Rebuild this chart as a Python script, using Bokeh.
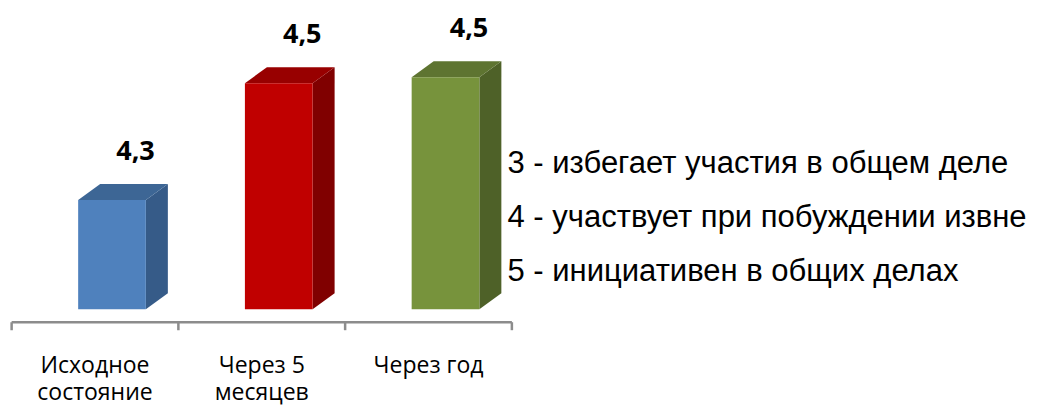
from bokeh.plotting import figure
from bokeh.models import Range1d, Label
from bokeh.core.properties import value
from bokeh.embed import file_html
from bokeh.resources import INLINE

# ---- data ----
CATEGORIES = ["Исходное\nсостояние", "Через 5\nмесяцев", "Через год"]
VALUES = [4.3, 4.5, 4.51]
LEGEND_LINES = [
    "3 - избегает участия в общем деле",
    "4 - участвует при побуждении извне",
    "5 - инициативен в общих делах",
]
FRONT_COLORS = ["#4F81BD", "#C00000", "#77933C"]
SIDE_COLORS = ["#365B88", "#800000", "#4E6128"]
TOP_COLORS = ["#3D6695", "#980000", "#5E7431"]

# ---- layout constants ----
W, H = 1045, 406
PX_X = 166.75          # px per category slot
PX_Y = 584.0           # px per value unit
X0 = 94.5              # canvas px of first slot centre
V_TOP = 4.3 + 199.5 / PX_Y
BASE = 4.113           # floor of the 3D bars
AXIS_Y = BASE - 13 / PX_Y
TICK = 8 / PX_Y
FL, FR = -0.101, 0.305  # front face extent relative to slot centre
DX = 22 / PX_X
DY = 16 / PX_Y

p = figure(width=W, height=H, output_backend="svg", toolbar_location=None,
           x_range=Range1d(-X0 / PX_X, (W - X0) / PX_X),
           y_range=Range1d(V_TOP - H / PX_Y, V_TOP),
           min_border=0, outline_line_color=None)
p.axis.visible = False
p.grid.visible = False
p.background_fill_color = "white"
p.border_fill_color = "white"

idx = list(range(len(VALUES)))
left = [i + FL for i in idx]
right = [i + FR for i in idx]

# side faces
side_xs = [[r, r + DX, r + DX, r] for r in right]
side_ys = [[BASE, BASE + DY, v + DY, v] for v in VALUES]
p.patches(side_xs, side_ys, fill_color=SIDE_COLORS, line_color=None)
# top faces
top_xs = [[l, l + DX, r + DX, r] for l, r in zip(left, right)]
top_ys = [[v, v + DY, v + DY, v] for v in VALUES]
p.patches(top_xs, top_ys, fill_color=TOP_COLORS, line_color=None)
# front faces
p.quad(left=left, right=right, bottom=BASE, top=VALUES,
       fill_color=FRONT_COLORS, line_color=None)

# value labels
labels = [f"{v:.1f}".replace(".", ",") for v in VALUES]
p.text(x=[i + 0.243 for i in idx], y=VALUES, text=labels,
       y_offset=-50, text_align="center", text_baseline="middle",
       text_font=value("Open Sans"), text_font_style="bold",
       text_font_size="27px", text_color="black")

# category axis
n = len(CATEGORIES)
p.segment(x0=[-0.5], y0=[AXIS_Y], x1=[n - 0.5], y1=[AXIS_Y],
          line_color="#8C8C8C", line_width=2.5)
bounds = [i - 0.5 for i in range(n + 1)]
p.segment(x0=bounds, y0=[AXIS_Y] * len(bounds), x1=bounds,
          y1=[AXIS_Y - TICK] * len(bounds), line_color="#8C8C8C", line_width=2.5)
split = [c.split("\n") for c in CATEGORIES]
for row, dy in enumerate([42, 69]):
    xs = [i for i, parts in zip(idx, split) if len(parts) > row]
    txt = [parts[row] for parts in split if len(parts) > row]
    p.text(x=xs, y=[AXIS_Y] * len(xs), text=txt, y_offset=dy,
           text_align="center", text_baseline="alphabetic",
           text_font=value("Open Sans"), text_font_size="23px", text_color="black")

# explanatory legend text
for k, line in enumerate(LEGEND_LINES):
    p.add_layout(Label(x=507, y=H - (162 + 54 * k), x_units="screen", y_units="screen",
                       text=line, text_font="Liberation Sans", text_font_size="31px",
                       text_color="black", text_baseline="alphabetic"))

open("out.html", "w").write(file_html(p, INLINE))
